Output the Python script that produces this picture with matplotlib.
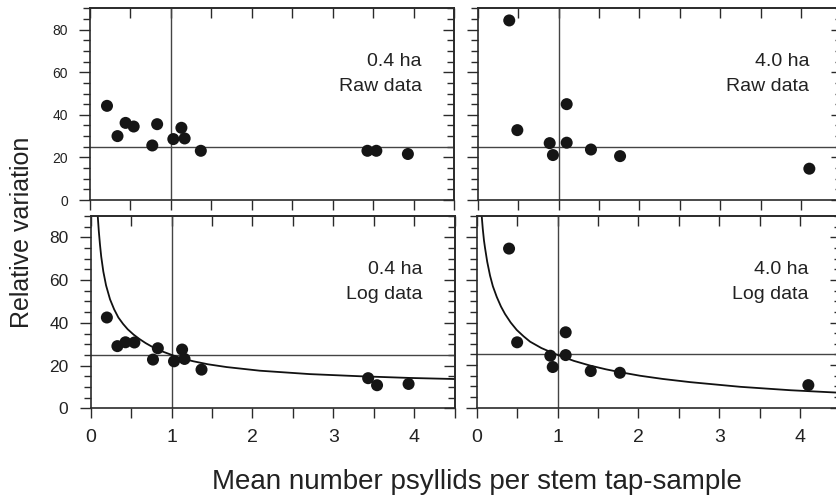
import numpy as np
import matplotlib
matplotlib.use("Agg")
import matplotlib.pyplot as plt
from matplotlib.ticker import MultipleLocator

plt.rcParams['font.family'] = ['Liberation Sans', 'DejaVu Sans']

# values
raw04_x = [0.21, 0.34, 0.44, 0.54, 0.77, 0.83, 1.03, 1.13, 1.17, 1.37, 3.43, 3.54, 3.93]
raw04_y = [44.2, 30.0, 36.2, 34.5, 25.6, 35.6, 28.6, 33.9, 28.9, 23.1, 23.1, 23.1, 21.6]
log04_x = [0.20, 0.33, 0.43, 0.54, 0.77, 0.83, 1.03, 1.13, 1.16, 1.37, 3.43, 3.54, 3.93]
log04_y = [42.5, 29.1, 30.9, 30.8, 22.8, 28.1, 22.0, 27.5, 23.1, 18.1, 14.1, 10.8, 11.4]
raw40_x = [0.39, 0.49, 0.89, 0.93, 1.10, 1.10, 1.40, 1.76, 4.10]
raw40_y = [84.3, 32.8, 26.7, 21.1, 45.0, 26.9, 23.7, 20.6, 14.7]
log40_x = [0.40, 0.50, 0.91, 0.94, 1.10, 1.10, 1.41, 1.77, 4.10]
log40_y = [74.7, 30.7, 24.4, 19.1, 35.4, 24.7, 17.2, 16.4, 10.6]

# fitted curves
fit04_x = [0.087, 0.1, 0.115, 0.13, 0.156, 0.19, 0.239, 0.29, 0.342, 0.4, 0.457, 0.53, 0.6,
           0.68, 0.75, 0.858, 1.0, 1.13, 1.27, 1.45, 1.68, 2.09, 2.71, 3.33, 3.95, 4.5]
fit04_y = [90, 83, 76.5, 71, 64, 57.5, 51, 46.3, 42.5, 39.5, 37, 34.5, 32.5,
           30.5, 29, 27, 25, 23.3, 22, 20.6, 19.3, 17.6, 16.0, 15.0, 14.2, 13.7]
fit40_x = [0.062, 0.075, 0.09, 0.103, 0.13, 0.165, 0.2, 0.248, 0.3, 0.35, 0.42, 0.495, 0.58,
           0.66, 0.8, 0.97, 1.2, 1.4, 1.6, 1.77, 2.02, 2.3, 2.64, 3.26, 3.88, 4.5]
fit40_y = [90, 84, 78.5, 75, 68.5, 62, 57, 52, 47.5, 44, 40, 36.5, 33.5,
           31, 28, 25.2, 22, 19.8, 18.0, 16.7, 15.0, 13.5, 12, 9.8, 8.2, 7.0]

labels = [("0.4 ha", "Raw data"), ("4.0 ha", "Raw data"),
          ("0.4 ha", "Log data"), ("4.0 ha", "Log data")]

fig = plt.figure(figsize=(8.36, 4.99), dpi=100)

W = 364 / 836
pos = [
    [90 / 836, 1 - 200 / 499, W, 191.7 / 499],
    [477.7 / 836, 1 - 200 / 499, W, 191.7 / 499],
    [90.7 / 836, 1 - 408.3 / 499, W, 192.3 / 499],
    [476.7 / 836, 1 - 407.7 / 499, W, 191.7 / 499],
]
xs = [raw04_x, raw40_x, log04_x, log40_x]
ys = [raw04_y, raw40_y, log04_y, log40_y]
fits = [None, None, (fit04_x, fit04_y), (fit40_x, fit40_y)]

spine_col = '#2a2a2a'

for i in range(4):
    ax = fig.add_axes(pos[i])
    ax.set_xlim(0, 4.5)
    ax.set_ylim(0, 90)
    for s in ax.spines.values():
        s.set_color(spine_col)
        s.set_linewidth(1.2)

    ax.axvline(1, color='#444444', lw=1.0, zorder=1)
    ax.axhline(25, color='#444444', lw=1.0, zorder=1)

    if fits[i] is not None:
        ax.plot(fits[i][0], fits[i][1], color='#111111', lw=1.3, zorder=2,
                solid_joinstyle='round')
    ax.scatter(xs[i], ys[i], s=75, color='#151515', edgecolor='none', zorder=3)

    ax.text(4.1, 64.8, labels[i][0], ha='right', va='center', fontsize=14, color='#222222')
    ax.text(4.1, 53.3, labels[i][1], ha='right', va='center', fontsize=14, color='#222222')

    # bottom / left ticks point outward
    ax.xaxis.set_major_locator(MultipleLocator(1))
    ax.xaxis.set_minor_locator(MultipleLocator(0.5))
    ax.yaxis.set_major_locator(MultipleLocator(20))
    ax.yaxis.set_minor_locator(MultipleLocator(5))
    ax.tick_params(axis='x', which='both', direction='out', length=7, width=1, color=spine_col,
                   labelsize=14, pad=8, labelcolor='#222222')
    ax.tick_params(axis='y', which='major', direction='out', length=8, width=1, color=spine_col,
                   pad=8, labelcolor='#222222')
    ax.tick_params(axis='y', which='minor', direction='out', length=5, width=1, color=spine_col)
    if i < 2:
        ax.tick_params(axis='x', labelbottom=False)
        ax.tick_params(axis='y', labelsize=10)
    else:
        ax.tick_params(axis='y', labelsize=12.5)
    if i in (1, 3):
        ax.tick_params(axis='y', labelleft=False)

    # top / right ticks point inward
    top = ax.secondary_xaxis('top')
    top.xaxis.set_major_locator(MultipleLocator(0.5))
    top.tick_params(direction='in', length=7, width=1, color=spine_col, labeltop=False)
    top.spines['top'].set_color(spine_col)
    top.spines['top'].set_linewidth(1.2)
    right = ax.secondary_yaxis('right')
    right.yaxis.set_major_locator(MultipleLocator(20))
    right.yaxis.set_minor_locator(MultipleLocator(5))
    right.tick_params(which='major', direction='in', length=8, width=1, color=spine_col, labelright=False)
    right.tick_params(which='minor', direction='in', length=5, width=1, color=spine_col)
    right.spines['right'].set_color(spine_col)
    right.spines['right'].set_linewidth(1.2)

fig.text(0.026, 0.535, "Relative variation", rotation=90, ha='center', va='center',
         fontsize=18, color='#222222')
fig.text(0.571, 0.034, "Mean number psyllids per stem tap-sample", ha='center', va='center',
         fontsize=20, color='#222222')

fig.savefig("out.png", dpi=100)
